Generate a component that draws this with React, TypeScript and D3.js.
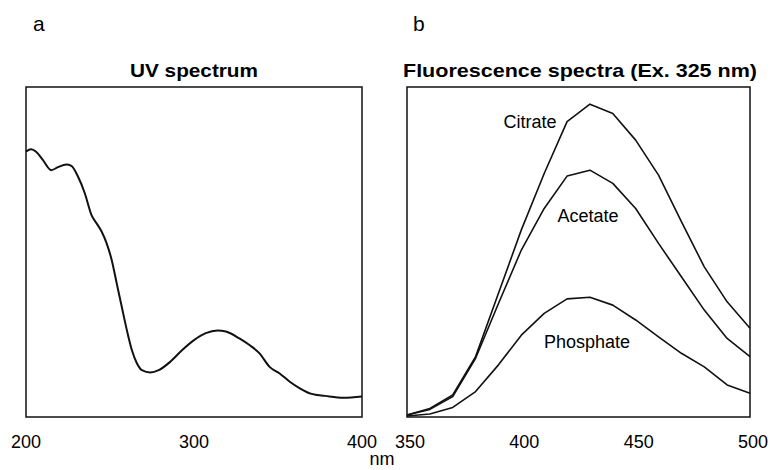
import React from 'react';
import * as d3 from 'd3';

// UV absorbance (arbitrary units)
const uvWavelength = [200, 203, 206, 210, 215, 219, 224, 227, 231, 235, 239, 242, 245, 248, 251, 254, 257, 260, 263, 266, 269, 274, 279, 286, 293, 300, 307, 314, 319, 327, 333, 339, 345, 351, 357, 363, 370, 378, 389, 400];
const uvAbsorbance = [80.4, 81.1, 80.4, 77.9, 74.8, 75.7, 76.5, 76.1, 72.8, 67.8, 61.2, 58.7, 56.2, 52.6, 47.6, 40.5, 33.4, 26.4, 20.3, 16.3, 14.2, 13.5, 14.2, 16.8, 20.3, 23.3, 25.4, 26.2, 25.9, 23.8, 21.8, 19.3, 15.2, 13.2, 10.7, 8.7, 7.0, 6.4, 5.8, 6.2];

// fluorescence emission (arbitrary units), every 10 nm
const emWavelength = [350, 360, 370, 380, 390, 400, 410, 420, 430, 440, 450, 460, 470, 480, 490, 500];
const citrate = [0.6, 2.6, 6.7, 18.3, 37.5, 56.7, 73.8, 89.5, 94.8, 92.0, 83.9, 73.3, 59.2, 45.5, 34.9, 26.9];
const acetate = [0.6, 2.3, 6.2, 17.8, 34.4, 50.6, 63.2, 73.0, 74.8, 70.8, 63.2, 52.6, 42.5, 32.4, 23.8, 18.3];
const phosphate = [0.3, 0.9, 2.9, 7.7, 15.8, 24.8, 31.4, 35.8, 36.3, 33.9, 29.4, 24.3, 19.3, 15.2, 9.7, 7.2];

const uvTicks = [200, 300, 400];
const emTicks = [350, 400, 450, 500];

const font = '"Liberation Sans", Arial, Helvetica, sans-serif';
const top = 87;
const bottom = 417;

export default function App() {
  const xA = d3.scaleLinear().domain([200, 400]).range([26, 362]);
  const xB = d3.scaleLinear().domain([350, 500]).range([407, 750]);
  const y = d3.scaleLinear().domain([0, 100]).range([bottom, top]);

  const uvLine = d3
    .line<number>()
    .x((d, i) => xA(uvWavelength[i]))
    .y((d) => y(d))
    .curve(d3.curveMonotoneX);

  const emLine = d3
    .line<number>()
    .x((d, i) => xB(emWavelength[i]))
    .y((d) => y(d));

  const series = [
    { name: 'Citrate', values: citrate, lx: 530, ly: 128 },
    { name: 'Acetate', values: acetate, lx: 588, ly: 222 },
    { name: 'Phosphate', values: phosphate, lx: 587, ly: 348 },
  ];

  return (
    <svg width={771} height={470} style={{ position: 'absolute', left: 0, top: 0, background: '#fff' }} fontFamily={font}>
      <text x={33} y={31} fontSize={21}>a</text>
      <text x={413} y={31} fontSize={21}>b</text>

      <text x={194} y={77} fontSize={19} fontWeight="bold" textAnchor="middle" textLength={128} lengthAdjust="spacingAndGlyphs">UV spectrum</text>
      <text x={580} y={77} fontSize={19} fontWeight="bold" textAnchor="middle" textLength={354} lengthAdjust="spacingAndGlyphs">Fluorescence spectra (Ex. 325 nm)</text>

      <rect x={26} y={top} width={336} height={bottom - top} fill="none" stroke="#111" strokeWidth={1.5} />
      <rect x={407} y={top} width={343} height={bottom - top} fill="none" stroke="#111" strokeWidth={1.5} />

      <path d={uvLine(uvAbsorbance) || ''} fill="none" stroke="#111" strokeWidth={2} />

      {series.map((s) => (
        <g key={s.name}>
          <path d={emLine(s.values) || ''} fill="none" stroke="#111" strokeWidth={1.6} strokeLinejoin="round" />
          <text x={s.lx} y={s.ly} fontSize={18} textAnchor="middle">{s.name}</text>
        </g>
      ))}

      {uvTicks.map((t) => (
        <text key={'a' + t} x={xA(t)} y={448} fontSize={18} textAnchor="middle">{t}</text>
      ))}
      {emTicks.map((t) => (
        <text key={'b' + t} x={xB(t) + 3} y={448} fontSize={18} textAnchor="middle">{t}</text>
      ))}
      <text x={382} y={465} fontSize={18} textAnchor="middle">nm</text>
    </svg>
  );
}
